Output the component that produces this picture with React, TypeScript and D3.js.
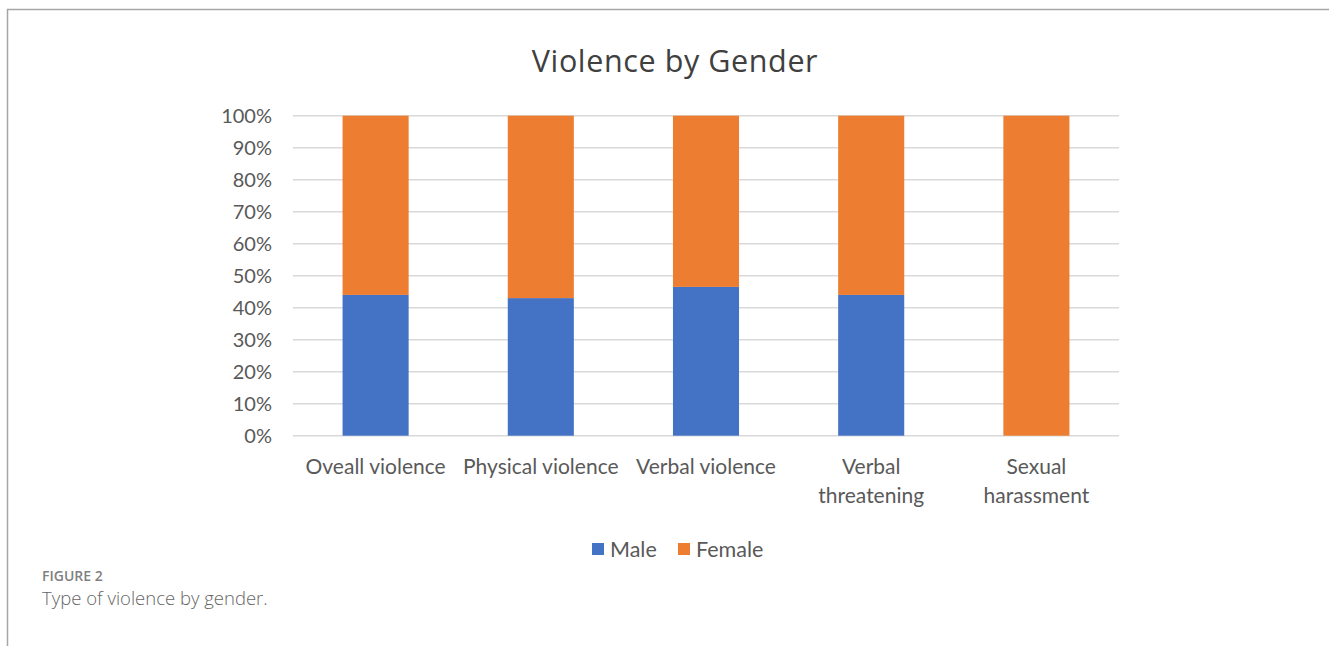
import React from "react";
import { scaleBand, scaleLinear, stack } from "d3";

// values (percent of each category)
const categories = ["Oveall violence", "Physical violence", "Verbal violence", "Verbal threatening", "Sexual harassment"];
const categoryLabels = [["Oveall violence"], ["Physical violence"], ["Verbal violence"], ["Verbal", "threatening"], ["Sexual", "harassment"]];
const maleValues = [44, 43, 46.5, 44, 0];
const femaleValues = [56, 57, 53.5, 56, 100];
const seriesNames = ["Male", "Female"];
const seriesColors = ["#4472C4", "#ED7D31"];
const yTicks = [0, 10, 20, 30, 40, 50, 60, 70, 80, 90, 100];

const W = 1329;
const H = 646;
const font = "Lato, 'Open Sans', sans-serif";

export default function App() {
  const rows = categories.map((c, i) => ({ cat: c, Male: maleValues[i], Female: femaleValues[i] }));
  const series = stack<any>().keys(seriesNames)(rows);

  const x = scaleBand().domain(categories).range([293, 1119]).paddingInner(0.6).paddingOuter(0.3);
  const y = scaleLinear().domain([0, 100]).range([435.7, 115.7]);

  return (
    <div style={{ position: "absolute", left: 0, top: 0 }}>
      <svg width={W} height={H} style={{ display: "block" }}>
        <rect width={W} height={H} fill="#fff" />
        {/* frame */}
        <path d={`M7.5,${H} V9.5 H${W}`} fill="none" stroke="#a6a6a6" strokeWidth={1.5} />

        <text x={675} y={72} textAnchor="middle" fontFamily="'Open Sans', sans-serif" fontSize={30.5}
          fill="#404040" letterSpacing={0.6}>Violence by Gender</text>

        {/* gridlines + y labels */}
        {yTicks.map(t => (
          <g key={t}>
            <line x1={293} x2={1119} y1={y(t)} y2={y(t)} stroke="#d9d9d9" strokeWidth={1.5} />
            <text x={272} y={y(t)} dy="0.35em" textAnchor="end" fontFamily={font} fontSize={20} fill="#595959">{t}%</text>
          </g>
        ))}

        {/* stacked bars */}
        {series.map((s, si) => (
          <g key={s.key} fill={seriesColors[si]}>
            {s.map((d, i) => {
              const h = y(d[0]) - y(d[1]);
              if (h <= 0) return null;
              return <rect key={i} x={x(categories[i])} y={y(d[1])} width={x.bandwidth()} height={h} />;
            })}
          </g>
        ))}

        {/* category labels */}
        {categoryLabels.map((lines, i) => (
          <text key={i} textAnchor="middle" fontFamily={font} fontSize={21} fill="#595959">
            {lines.map((ln, li) => (
              <tspan key={li} x={(x(categories[i]) ?? 0) + x.bandwidth() / 2} y={474 + li * 29}>{ln}</tspan>
            ))}
          </text>
        ))}

        {/* legend */}
        {seriesNames.map((n, i) => {
          const lx = [592, 678][i];
          return (
            <g key={n}>
              <rect x={lx} y={543} width={12} height={12} fill={seriesColors[i]} />
              <text x={lx + 18} y={549} dy="0.35em" fontFamily={font} fontSize={21.5} fill="#595959">{n}</text>
            </g>
          );
        })}

        {/* caption */}
        <text x={42} y={581} fontFamily="'Open Sans', sans-serif" fontSize={14} fontWeight={600} fill="#808080">FIGURE 2</text>
        <text x={42} y={605} fontFamily="'Open Sans', sans-serif" fontSize={18.5} fontWeight={300} fill="#666">Type of violence by gender.</text>
      </svg>
    </div>
  );
}
